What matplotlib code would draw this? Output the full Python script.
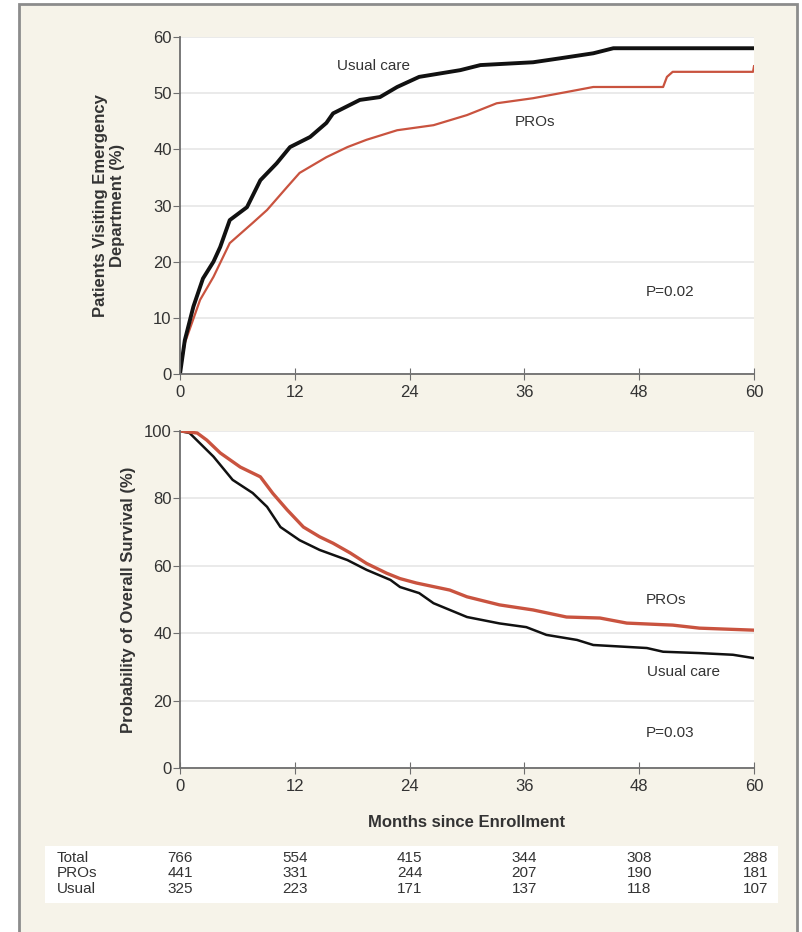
import matplotlib
matplotlib.use("Agg")
import matplotlib.pyplot as plt
from matplotlib.patches import Rectangle

plt.rcParams['font.family'] = ['Liberation Sans Narrow', 'Liberation Sans', 'DejaVu Sans']

# ED visits (cumulative %)
ed_usual_m = [0, 0.5, 1.4, 2.4, 3.5, 4.2, 5.2, 7, 8.4, 10.1, 11.5, 13.6, 15.3, 16, 18.8, 20.9, 22.7,
              25, 29.3, 31.4, 36.9, 39.7, 43.2, 45.3, 60]
ed_usual_v = [0, 6, 12, 17, 20, 22.6, 27.4, 29.7, 34.5, 37.5, 40.4, 42.2, 44.7, 46.4, 48.8, 49.3, 51.1,
              52.9, 54.1, 55, 55.5, 56.2, 57.1, 58, 58]
ed_pros_m = [0, 0.5, 2.1, 3.5, 5.2, 7.6, 9.1, 11.2, 12.5, 15.3, 17.5, 19.5, 22.7, 26.5, 30, 33.1,
             36.9, 40.4, 43.2, 50.5, 50.9, 51.5, 59.9, 60]
ed_pros_v = [0, 5.5, 13.2, 17.3, 23.3, 26.9, 29.2, 33.3, 35.8, 38.6, 40.4, 41.7, 43.4, 44.3, 46.1, 48.2,
             49.1, 50.2, 51.1, 51.1, 52.9, 53.8, 53.8, 54.8]

# overall survival (%)
os_usual_m = [0, 1, 3.5, 5.5, 7.6, 9.1, 10.5, 12.5, 14.6, 17.5, 19.5, 22, 23, 25, 26.5, 30, 33.4,
              36.2, 38.3, 41.5, 43.2, 48.8, 50.5, 54.3, 57.8, 60]
os_usual_v = [100, 99.4, 92.4, 85.5, 81.6, 77.5, 71.5, 67.6, 64.7, 61.7, 58.8, 55.8, 53.7, 51.9, 48.9,
              44.8, 42.9, 41.8, 39.5, 38, 36.5, 35.6, 34.5, 34.1, 33.6, 32.6]
os_pros_m = [0, 1.8, 2.8, 4.2, 6.3, 8.4, 9.7, 11.2, 12.9, 14.6, 16, 17.8, 19.5, 21.6, 23, 24.7, 28.2,
             30, 33.4, 36.9, 40.4, 43.9, 46.7, 51.5, 54.3, 60]
os_pros_v = [100, 99.4, 97.3, 93.5, 89.3, 86.4, 81.5, 76.6, 71.5, 68.6, 66.7, 63.8, 60.7, 57.8, 56.2,
             54.9, 52.8, 50.8, 48.4, 46.9, 44.8, 44.5, 43, 42.4, 41.5, 40.9]

# numbers at risk
risk_months = [0, 12, 24, 36, 48, 60]
risk_rows = ["Total", "PROs", "Usual"]
risk_total = [766, 554, 415, 344, 308, 288]
risk_pros = [441, 331, 244, 207, 190, 181]
risk_usual = [325, 223, 171, 137, 118, 107]

black = "#111111"
red = "#c9533f"
txt = "#333333"
spine = "#6e6e6e"

fig = plt.figure(figsize=(8.03, 9.32), dpi=100, facecolor="white")
fig.patches.append(Rectangle((19 / 803, -0.01), 778 / 803, 1 - 4 / 932 + 0.01, transform=fig.transFigure,
                             facecolor="#f6f3e9", edgecolor="#8c8c8c", linewidth=2, zorder=-10))
fig.patches.append(Rectangle((45 / 803, 1 - 903 / 932), 733 / 803, 57 / 932, transform=fig.transFigure,
                             facecolor="white", edgecolor="none", zorder=-9))

W = 574 / 803
H = 337 / 932
ax1 = fig.add_axes([180 / 803, 1 - 374 / 932, W, H])
ax2 = fig.add_axes([180 / 803, 1 - 768 / 932, W, H])


def style(ax, yticks):
    ax.set_facecolor("white")
    ax.set_xlim(0, 60)
    ax.set_xticks(risk_months)
    ax.set_yticks(yticks)
    for s in ["top", "right"]:
        ax.spines[s].set_visible(False)
    for s in ["left", "bottom"]:
        ax.spines[s].set_color(spine)
        ax.spines[s].set_linewidth(1.3)
    ax.tick_params(axis="y", direction="out", length=5, color=spine, labelsize=12, labelcolor=txt, pad=1)
    ax.tick_params(axis="x", direction="inout", length=8, color=spine, labelsize=12, labelcolor=txt, pad=4)
    ax.grid(axis="y", color="#e6e6e6", linewidth=1.2)
    ax.set_axisbelow(True)


style(ax1, [0, 10, 20, 30, 40, 50, 60])
ax1.set_ylim(0, 60)
ax1.plot(ed_pros_m, ed_pros_v, color=red, lw=1.6)
ax1.plot(ed_usual_m, ed_usual_v, color=black, lw=2.8)
ax1.text(20.2, 54.8, "Usual care", fontsize=11, color=txt, ha="center", va="center")
ax1.text(37.1, 44.8, "PROs", fontsize=11, color=txt, ha="center", va="center")
ax1.text(51.2, 14.6, "P=0.02", fontsize=11, color=txt, ha="center", va="center")
ax1.set_ylabel("Patients Visiting Emergency\nDepartment (%)", fontsize=12, fontweight="bold",
               color=txt, labelpad=20, linespacing=1.15)

style(ax2, [0, 20, 40, 60, 80, 100])
ax2.set_ylim(0, 100)
ax2.plot(os_usual_m, os_usual_v, color=black, lw=1.8)
ax2.plot(os_pros_m, os_pros_v, color=red, lw=2.4)
ax2.text(50.8, 49.9, "PROs", fontsize=11, color=txt, ha="center", va="center")
ax2.text(52.6, 28.6, "Usual care", fontsize=11, color=txt, ha="center", va="center")
ax2.text(51.2, 10.4, "P=0.03", fontsize=11, color=txt, ha="center", va="center")
ax2.set_ylabel("Probability of Overall Survival (%)", fontsize=12, fontweight="bold",
               color=txt, labelpad=6)
ax2.set_xlabel("Months since Enrollment", fontsize=12, fontweight="bold", color=txt, labelpad=15)

# numbers at risk table
for row, vals, yp in zip(risk_rows, [risk_total, risk_pros, risk_usual], [858, 873, 889]):
    yf = 1 - yp / 932
    fig.text(57 / 803, yf, row, fontsize=11, color=txt, ha="left", va="center")
    for m, v in zip(risk_months, vals):
        xd = ax2.transData.transform((m, 0))[0]
        xf = fig.transFigure.inverted().transform((xd, 0))[0]
        ha = "right" if m == 60 else "center"
        if m == 60:
            xf += 14 / 803
        fig.text(xf, yf, str(v), fontsize=11, color=txt, ha=ha, va="center")

fig.savefig("out.png", dpi=100, facecolor="white")
